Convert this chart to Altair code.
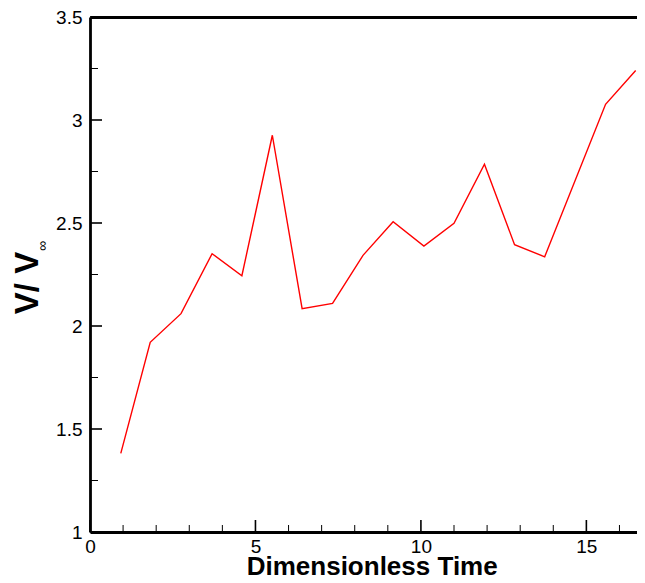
import altair as alt
import pandas as pd

# Data
time = [0.93, 1.82, 2.75, 3.69, 4.59, 5.51, 6.41, 7.33, 8.25, 9.16,
        10.09, 11.00, 11.92, 12.83, 13.74, 15.58, 16.49]
velocity = [1.382, 1.921, 2.060, 2.351, 2.244, 2.926, 2.084, 2.110, 2.343, 2.506,
            2.388, 2.499, 2.785, 2.395, 2.336, 3.076, 3.240]

x_major = [0, 5, 10, 15]
x_minor = [1, 2, 3, 4, 6, 7, 8, 9, 11, 12, 13, 14, 16]
y_major = [1.0, 1.5, 2.0, 2.5, 3.0, 3.5]
y_minor = [1.25, 1.75, 2.25, 2.75, 3.25]

W, H = 547, 515
FONT = "Liberation Sans"
XDOM = [0, 16.53]
YDOM = [1, 3.5]

df = pd.DataFrame({"t": time, "v": velocity})
xs = alt.Scale(domain=XDOM, nice=False, zero=False)
ys = alt.Scale(domain=YDOM, nice=False, zero=False)

line = alt.Chart(df).mark_line(color="#ff0000", strokeWidth=1.4).encode(
    x=alt.X("t:Q", scale=xs,
            axis=alt.Axis(orient="bottom", values=x_major, format="d", ticks=False, tickSize=0,
                          grid=False, labelPadding=5, labelFontSize=19, labelFont=FONT,
                          labelFlush=False, labelColor="black", domainColor="black",
                          domainWidth=2.8,
                          title="Dimensionless Time", titleFont=FONT, titleFontSize=26,
                          titleFontWeight="bold", titleColor="black",
                          titleX=281.7, titleY=42.5, titleBaseline="alphabetic",
                          titleAlign="center")),
    y=alt.Y("v:Q", scale=ys,
            axis=alt.Axis(orient="left", values=y_major, format="~g", ticks=False, tickSize=0,
                          grid=False, labelPadding=8, labelFontSize=19, labelFont=FONT,
                          labelFlush=False, labelColor="black", domainColor="black",
                          domainWidth=2.8,
                          title="V/ V", titleFont=FONT, titleFontSize=33,
                          titleFontWeight="bold", titleColor="black", titleAngle=270,
                          titleX=-53, titleY=265.5, titleBaseline="alphabetic",
                          titleAlign="center")),
)

# top frame line via a top axis, plus the major x ticks
top = alt.Chart(pd.DataFrame({"v": x_major})).mark_rule(stroke="black", strokeWidth=1.6).encode(
    x=alt.X("v:Q", scale=xs,
            axis=alt.Axis(orient="top", labels=False, ticks=False, grid=False, title=None,
                          domainColor="black", domainWidth=2.8)),
    y=alt.value(H), y2=alt.value(H - 12),
)

xmin = alt.Chart(pd.DataFrame({"v": x_minor})).mark_rule(stroke="black", strokeWidth=1).encode(
    x=alt.X("v:Q", scale=xs, axis=None),
    y=alt.value(H), y2=alt.value(H - 7),
)

ymaj = alt.Chart(pd.DataFrame({"v": y_major})).mark_rule(stroke="black", strokeWidth=1.6).encode(
    y=alt.Y("v:Q", scale=ys, axis=None),
    x=alt.value(0), x2=alt.value(12),
)
ymin = alt.Chart(pd.DataFrame({"v": y_minor})).mark_rule(stroke="black", strokeWidth=1).encode(
    y=alt.Y("v:Q", scale=ys, axis=None),
    x=alt.value(0), x2=alt.value(8),
)

inf = alt.Chart(pd.DataFrame({"s": ["∞"]})).mark_text(
    font=FONT, fontSize=14, fill="black", angle=270, align="center", baseline="middle"
).encode(text="s:N", x=alt.value(-47), y=alt.value(229))

chart = alt.layer(line, top, xmin, ymaj, ymin, inf).resolve_axis(
    x="independent", y="independent"
).properties(
    width=W, height=H,
    autosize=alt.AutoSizeParams(type="none"),
    padding={"left": 82, "top": 9, "right": 0, "bottom": 43},
    background="white",
).configure_view(stroke=None)

chart.save("out.html", embed_options={"renderer": "svg", "actions": False})
